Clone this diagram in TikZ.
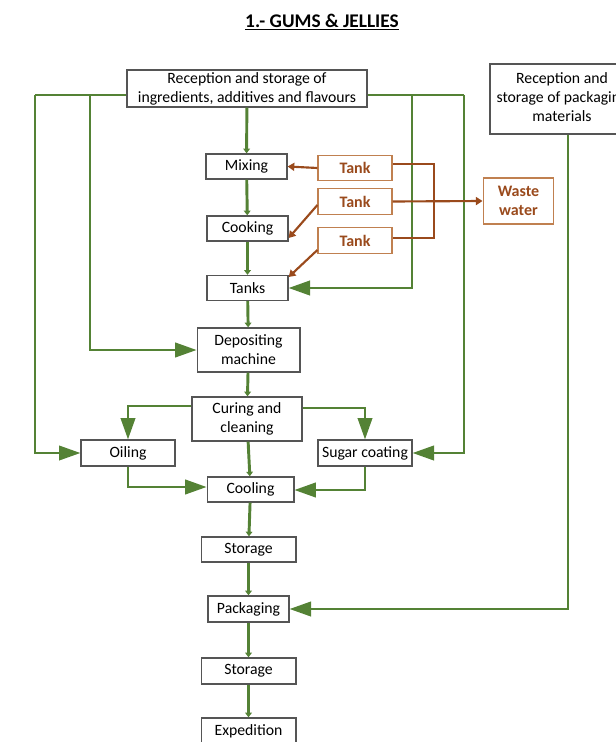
\documentclass[tikz,border=0pt]{standalone}
\usepackage{fontspec}
\setmainfont{Carlito}
\usetikzlibrary{arrows.meta}
\definecolor{grn}{HTML}{548235}
\definecolor{brn}{HTML}{9A4A1C}
\definecolor{brnbox}{HTML}{C08050}
\definecolor{gbox}{HTML}{555555}
\begin{document}
\begin{tikzpicture}[x=0.75pt,y=-0.75pt,
  box/.style={draw=gbox, line width=1pt, fill=white, align=center, inner sep=1pt, font=\fontsize{11.8}{14.2}\selectfont},
  tbox/.style={draw=brnbox, line width=0.9pt, fill=white, align=center, inner sep=1pt, text=brn, font=\bfseries\fontsize{12}{14.2}\selectfont, minimum width=55.5pt, minimum height=19pt},
  flow/.style={draw=grn, line width=2.2pt, -{Triangle[length=3.5pt,width=5pt]}},
  feed/.style={draw=grn, line width=1.4pt, -{Triangle[length=16pt,width=11pt]}},
  fline/.style={draw=grn, line width=1.4pt},
  bflow/.style={draw=brn, line width=1.6pt, -{Triangle[length=5pt,width=6pt]}},
  bline/.style={draw=brn, line width=1.6pt}
]
\useasboundingbox (0,0) rectangle (616,742);
\clip (0,0) rectangle (616,742);
\node[font=\bfseries\fontsize{14.5}{17}\selectfont] (title) at (322,22) {\underline{1.- GUMS \& JELLIES}};

\node[box, minimum width=180pt, minimum height=27.75pt] (rec) at (247,88.5) {Reception and storage of\\ingredients, additives and flavours};
\node[box, minimum width=105pt, minimum height=52.5pt] (recp) at (560,99) {};
\node[font=\fontsize{11.8}{14.2}\selectfont, align=center] (recpt) at (562,97) {Reception and\\storage of packaging\\materials};

\node[box, minimum width=60.75pt, minimum height=18.75pt] (mix) at (246.5,166.5) {Mixing};
\node[box, minimum width=60.75pt, minimum height=18.75pt] (cook) at (247.5,228.5) {Cooking};
\node[box, minimum width=60.75pt, minimum height=18.75pt] (tanks) at (247.5,288) {Tanks};
\node[box, minimum width=77pt, minimum height=33pt] (dep) at (248.5,350) {Depositing\\machine};
\node[box, minimum width=82.5pt, minimum height=33pt] (cur) at (247,419) {Curing and\\cleaning};
\node[box, minimum width=70.5pt, minimum height=19.5pt] (oil) at (128,453) {Oiling};
\node[box, minimum width=70.5pt, minimum height=19.5pt] (sug) at (365,453) {Sugar coating};
\node[box, minimum width=65pt, minimum height=18.75pt] (cool) at (250.5,489.5) {Cooling};
\node[box, minimum width=71pt, minimum height=18.75pt] (st1) at (248.5,549.5) {Storage};
\node[box, minimum width=60.75pt, minimum height=19.5pt] (pack) at (248.5,609) {Packaging};
\node[box, minimum width=71pt, minimum height=19.5pt] (st2) at (248.5,671) {Storage};
\node[box, minimum width=71pt, minimum height=19.5pt] (exp) at (248.5,731) {Expedition};

\node[tbox] (t1) at (355,168) {Tank};
\node[tbox] (t2) at (355,201.5) {Tank};
\node[tbox] (t3) at (355,240.5) {Tank};
\node[tbox, minimum width=53pt, minimum height=34.5pt] (ww) at (518.5,201) {Waste\\water};

% main flow
\draw[flow] (rec) -- (mix);
\draw[flow] (mix) -- (cook);
\draw[flow] (cook) -- (tanks);
\draw[flow] (tanks) -- (dep);
\draw[flow] (dep) -- (cur);
\draw[flow] (cur) -- (cool);
\draw[flow] (cool) -- (st1);
\draw[flow] (st1) -- (pack);
\draw[flow] (pack) -- (st2);
\draw[flow] (st2) -- (exp);

% feeds from reception
\coordinate (l1) at (35,95);
\coordinate (l2) at (90,95);
\coordinate (r1) at (412,95);
\coordinate (r2) at (464,95);
\draw[fline] (rec.west |- l1) -- (l1);
\draw[fline] (rec.east |- r2) -- (r2);
\draw[feed] (l1) |- (oil.west);
\draw[feed] (l2) |- (dep.west);
\draw[feed] (r1) |- (tanks.east);
\draw[feed] (r2) |- (sug.east);

% curing branches
\draw[feed] (cur.west |- 0,406) -| (oil.north);
\draw[feed] (cur.east |- 0,408) -| (sug.north);
\draw[feed] (oil.south) |- (cool.west |- 0,487);
\draw[feed] (sug.south) |- (cool.east |- 0,490);
\draw[feed] (recp.south -| 568,0) |- (pack.east);

% tanks (brown)
\draw[bflow] (t1.west) -- (mix.east);
\draw[bflow] (t2.west |- 0,205) -- (cook.east |- 0,238);
\draw[bflow] (t3.west |- 0,250) -- (tanks.east |- 0,277);
\coordinate (bx) at (434,164);
\draw[bline] (t1.east |- bx) -- (bx) -- (bx |- 0,238) -- (t3.east |- 0,238);
\draw[bflow] (t2.east) -- (ww.west);
\end{tikzpicture}
\end{document}
